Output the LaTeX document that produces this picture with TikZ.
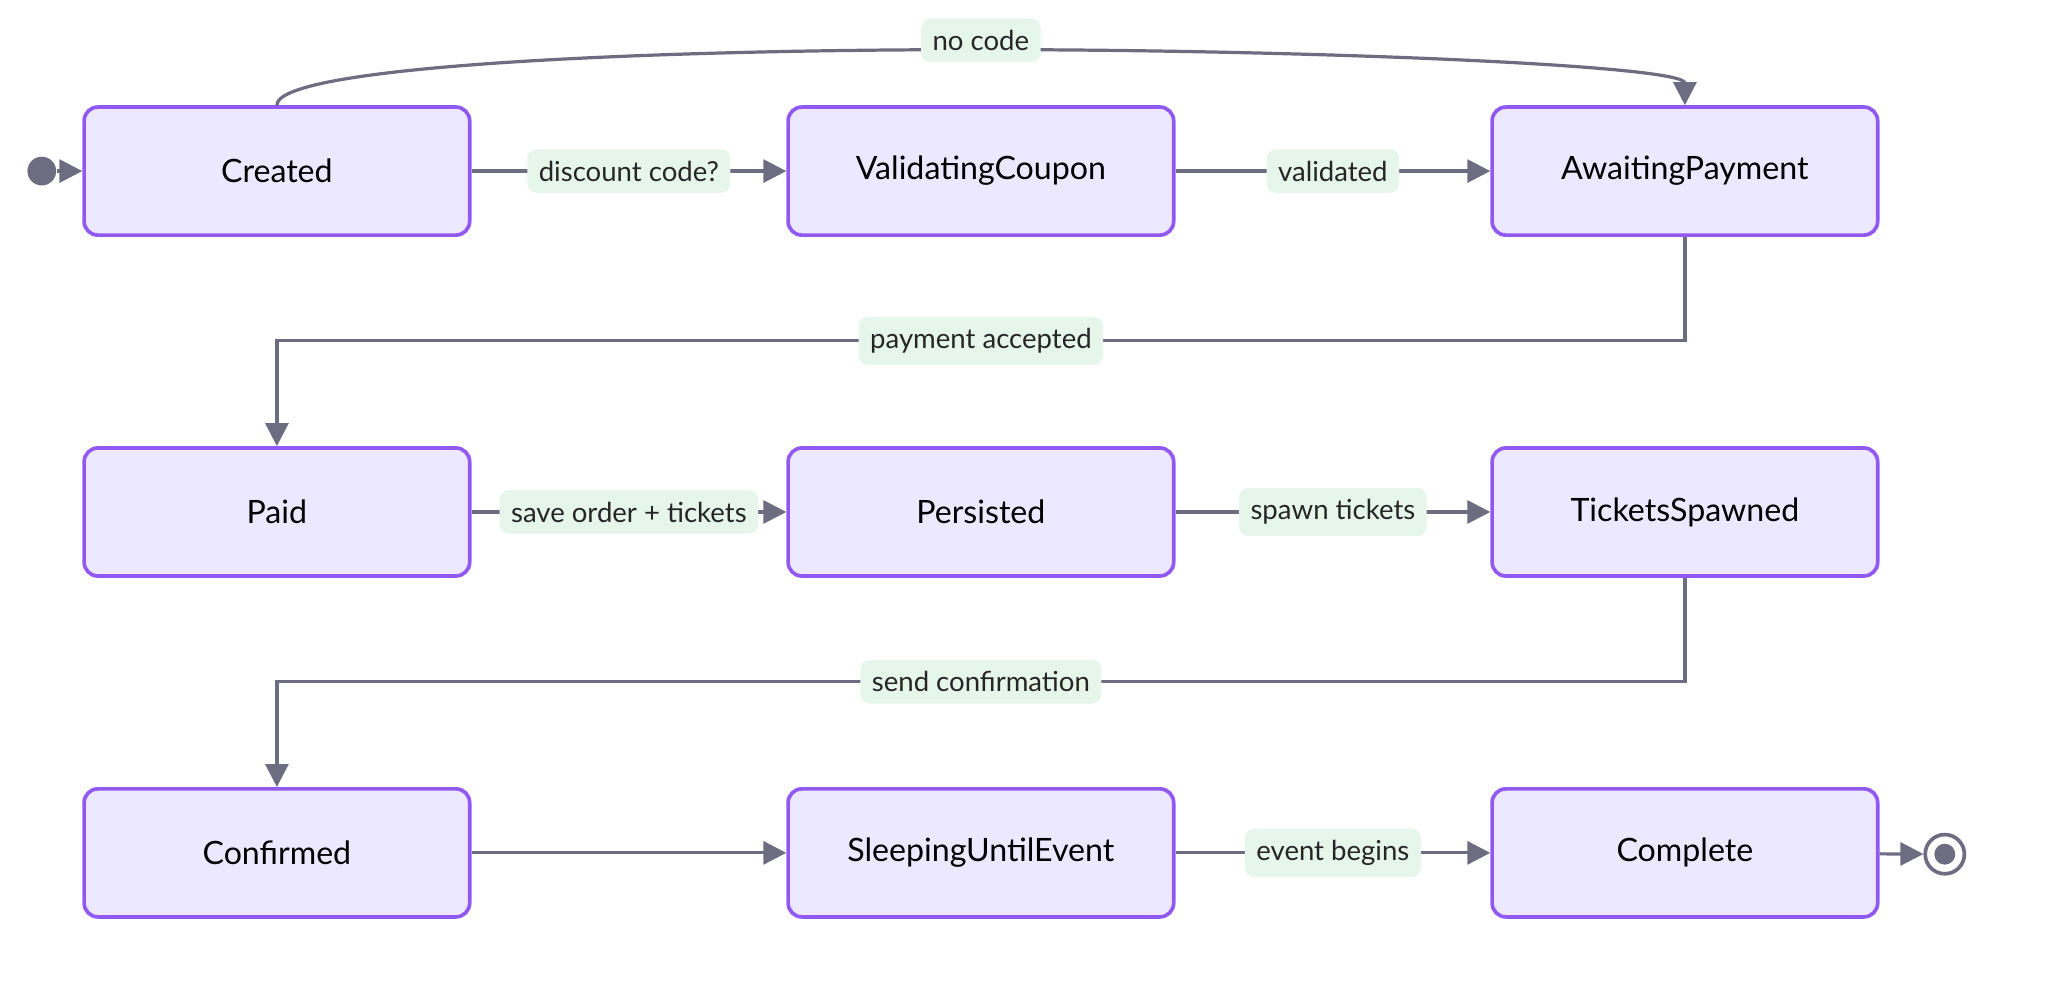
\documentclass[tikz,border=0pt]{standalone}
\usepackage{fontspec}
\setmainfont{Lato}
\usetikzlibrary{arrows.meta, positioning}
\definecolor{stfill}{HTML}{ECE8FF}
\definecolor{stdraw}{HTML}{9259F2}
\definecolor{edge}{HTML}{6E6C80}
\definecolor{lblfill}{HTML}{E6F6EB}
\tikzset{
  state/.style={rectangle, rounded corners=3pt, minimum width=2.95cm, minimum height=0.98cm, text centered, draw=stdraw, line width=0.8pt, fill=stfill, font=\fontsize{7}{8}\selectfont},
  lbl/.style={fill=lblfill, rounded corners=2pt, inner sep=2.5pt, text=black!85, font=\fontsize{6}{7}\selectfont},
  arrow/.style={draw=edge, line width=0.7pt, -{Triangle[length=5pt, width=5pt]}, edge}
}
\begin{document}
\begin{tikzpicture}[x=0.01cm, y=-0.01cm]
    \useasboundingbox (0,0) rectangle (1568,768);

    \node (created) [state] at (212,131) {Created};
    \node (coupon) [state] at (751,131) {ValidatingCoupon};
    \node (awaiting) [state] at (1290,131) {AwaitingPayment};
    \node (paid) [state] at (212,392) {Paid};
    \node (persisted) [state] at (751,392) {Persisted};
    \node (spawned) [state] at (1290,392) {TicketsSpawned};
    \node (confirmed) [state] at (212,653) {Confirmed};
    \node (sleeping) [state] at (751,653) {SleepingUntilEvent};
    \node (complete) [state] at (1290,653) {Complete};

    \node (start) [circle, fill=edge, inner sep=0pt, minimum size=0.22cm] at (32,131) {};
    \node (stop) [circle, draw=edge, line width=0.8pt, inner sep=0pt, minimum size=0.3cm] at (1489,654) {};
    \fill [edge] (stop) circle (0.08cm);

    \draw [arrow] (start) -- (created);
    \draw [arrow] (created) -- node[lbl] {discount code?} (coupon);
    \draw [arrow] (coupon) -- node[lbl] {validated} (awaiting);
    \draw [arrow] (created.north) .. controls (212,50) and (500,38) .. (751,38)
        .. controls (1000,38) and (1290,50) .. (awaiting.north);
    \node [lbl] at (751,31) {no code};
    \draw [arrow] (awaiting.south) |- (751,261) node[lbl] {payment accepted} -| (paid.north);
    \draw [arrow] (paid) -- node[lbl] {save order + tickets} (persisted);
    \draw [arrow] (persisted) -- node[lbl] {spawn tickets} (spawned);
    \draw [arrow] (spawned.south) |- (751,522) node[lbl] {send confirmation} -| (confirmed.north);
    \draw [arrow] (confirmed) -- (sleeping);
    \draw [arrow] (sleeping) -- node[lbl] {event begins} (complete);
    \draw [arrow] (complete) -- (stop);

\end{tikzpicture}
\end{document}
